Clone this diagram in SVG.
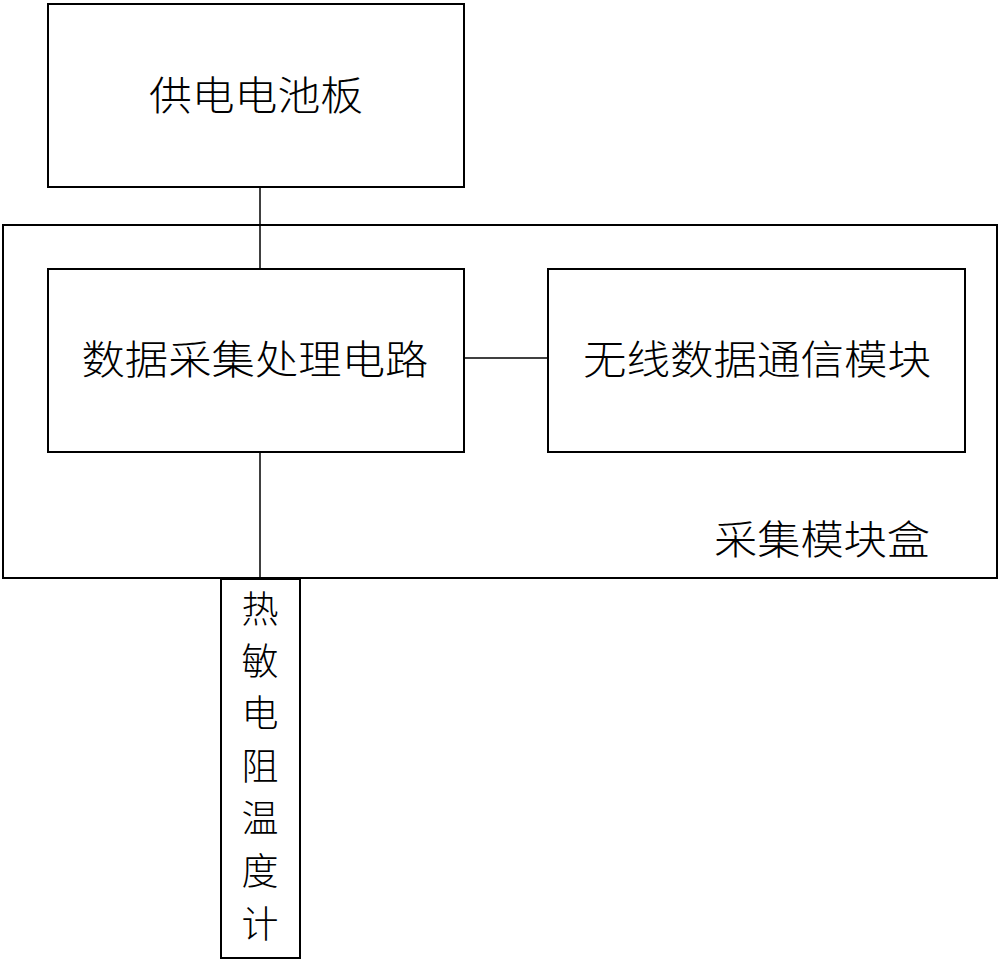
<svg xmlns="http://www.w3.org/2000/svg" width="1000" height="964" viewBox="0 0 1000 964">
<style>
.box{fill:none;stroke:#000;stroke-width:2}
.ln{stroke:#000;stroke-width:1.5;fill:none}
.t{font-family:"Liberation Serif","Noto Sans CJK SC",serif;font-size:40px;font-weight:300;fill:#000;text-anchor:middle}
.v{font-family:"Liberation Serif","Noto Sans CJK SC",serif;font-size:37px;font-weight:300;fill:#000;text-anchor:middle}
</style>
<rect width="1000" height="964" fill="#fff"/>
<g id="connectors">
<line class="ln" x1="260" y1="187" x2="260" y2="269"/>
<line class="ln" x1="464" y1="358" x2="548" y2="358"/>
<line class="ln" x1="260" y1="452" x2="260" y2="579"/>
</g>
<g id="box-module">
<rect class="box" x="3" y="225" width="994" height="353"/>
<text class="t" x="822" y="554" textLength="216" lengthAdjust="spacingAndGlyphs">采集模块盒</text>
</g>
<g id="node-battery">
<rect class="box" x="48" y="4" width="416" height="183"/>
<text class="t" x="256" y="110" textLength="214" lengthAdjust="spacingAndGlyphs">供电电池板</text>
</g>
<g id="node-processing">
<rect class="box" x="48" y="269" width="416" height="183"/>
<text class="t" x="255" y="374" textLength="347" lengthAdjust="spacingAndGlyphs">数据采集处理电路</text>
</g>
<g id="node-wireless">
<rect class="box" x="548" y="269" width="417" height="183"/>
<text class="t" x="757" y="374" textLength="348" lengthAdjust="spacingAndGlyphs">无线数据通信模块</text>
</g>
<g id="node-thermistor">
<rect class="box" x="221" y="579" width="79" height="379"/>
<text class="v" x="260" y="623">热</text>
<text class="v" x="260" y="675">敏</text>
<text class="v" x="260" y="727">电</text>
<text class="v" x="260" y="780">阻</text>
<text class="v" x="260" y="832">温</text>
<text class="v" x="260" y="885">度</text>
<text class="v" x="260" y="938">计</text>
</g>
</svg>
